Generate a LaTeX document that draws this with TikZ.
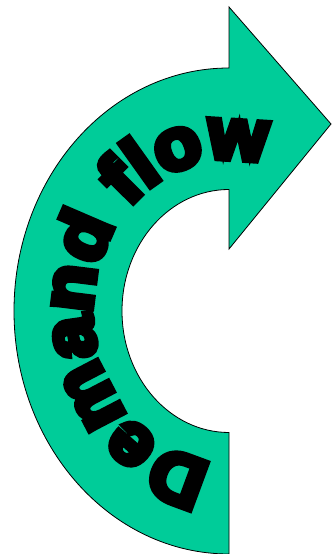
\documentclass[tikz,border=0pt]{standalone}
\usepackage{fontspec}
\newfontfamily\heavyfont{Liberation Sans}[FakeBold=9,FakeStretch=1.06]
\usetikzlibrary{decorations.text}
\definecolor{flowgreen}{RGB}{0,204,153}
\tikzset{
  arrowshape/.style={fill=flowgreen, draw=black, line width=0.8pt, line join=miter},
  flowtext/.style={line join=round, decorate, decoration={text along path,
    text={Demand flow},
    text align={fit to path}}}
}
\begin{document}
\begin{tikzpicture}[x=1pt,y=1pt]
\useasboundingbox (0,0) rectangle (332,554);
\draw[arrowshape] (229,0)
  arc[start angle=270,end angle=90,x radius=215,y radius=243]
  -- (229,547) -- (331,430) -- (229,305) -- (229,364.5)
  arc[start angle=90,end angle=270,x radius=107,y radius=121.5]
  -- cycle;
\begingroup
\heavyfont\bfseries\fontsize{72}{72}\selectfont
\path[flowtext] (229,243) ++(263:137 and 152)
  arc[start angle=263,end angle=77,x radius=137,y radius=152];
\endgroup
\end{tikzpicture}
\end{document}
